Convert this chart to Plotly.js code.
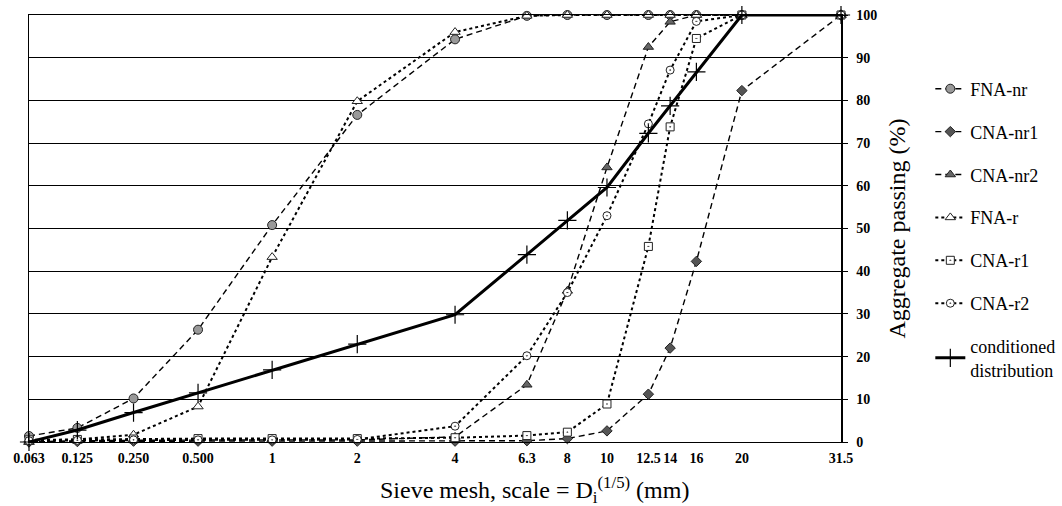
<!DOCTYPE html>
<html>
<head>
<meta charset="utf-8">
<script src="https://cdn.plot.ly/plotly-3.0.1.min.js"></script>
<style>html,body{margin:0;padding:0;background:#fff;}#chart{width:1062px;height:506px;}</style>
</head>
<body>
<div id="chart"></div>
<script>
// Sieve sizes (mm) and their tick labels
const sieveSizes = [0.063, 0.125, 0.25, 0.5, 1, 2, 4, 6.3, 8, 10, 12.5, 14, 16, 20, 31.5];
const sieveLabels = ['0.063','0.125','0.250','0.500','1','2','4','6.3','8','10','12.5','14','16','20','31.5'];

// Aggregate passing (%)
const fnaNr   = [1.4, 3.3, 10.2, 26.3, 50.8, 76.6, 94.3, 99.8, 100, 100, 100, 100, 100, 100, 100];
const cnaNr1  = [0, 0.1, 0.2, 0.2, 0.2, 0.2, 0.2, 0.3, 0.8, 2.6, 11.2, 22.0, 42.3, 82.3, 100];
const cnaNr2  = [0, 0.3, 0.4, 0.5, 0.5, 0.5, 1.2, 13.4, 35.4, 64.3, 92.5, 98.4, 100, 100, 100];
const fnaR    = [0, 0.6, 1.7, 8.3, 43.3, 79.8, 96.0, 99.8, 100, 100, 100, 100, 100, 100, 100];
const cnaR1   = [0.5, 0.6, 0.7, 0.8, 0.8, 0.8, 1.0, 1.5, 2.3, 8.9, 45.8, 73.8, 94.5, 100, 100];
const cnaR2   = [0.3, 0.4, 0.5, 0.5, 0.5, 0.6, 3.7, 20.2, 35.0, 53.0, 74.5, 87.1, 98.5, 100, 100];
const conditioned = [0, 2.8, 6.9, 11.5, 16.9, 22.9, 29.8, 43.9, 51.9, 59.6, 72.3, 78.7, 86.7, 100, 100];

// axis scale: D^(1/5)
const xs = sieveSizes.map(d => Math.pow(d, 0.2));

const F = 'Liberation Serif';
const dashed = '6px,4px';

function tr(name, y, dash, width, symbol, fill, size, group) {
  return {
    x: xs, y: y, name: name, type: 'scatter', mode: 'lines+markers',
    legendgroup: group, cliponaxis: false,
    line: {color: '#000', dash: dash, width: width},
    marker: {symbol: symbol, size: size, color: fill, line: {color: '#222', width: 1}}
  };
}

const data = [
  tr('FNA-nr', fnaNr, dashed, 1.4, 'circle', '#999999', 9, 'a'),
  tr('CNA-nr1', cnaNr1, dashed, 1.4, 'diamond', '#555555', 8, 'b'),
  tr('CNA-nr2', cnaNr2, dashed, 1.4, 'triangle-up', '#666666', 9, 'c'),
  tr('FNA-r', fnaR, 'dot', 2, 'triangle-up', '#ffffff', 9, 'd'),
  tr('CNA-r1', cnaR1, 'dot', 2, 'square-dot', '#ffffff', 8, 'e'),
  tr('CNA-r2', cnaR2, 'dot', 2, 'circle-dot', '#ffffff', 8, 'f'),
  {
    x: xs, y: conditioned, name: 'conditioned<br>distribution', type: 'scatter', mode: 'lines+markers',
    legendgroup: 'g', cliponaxis: false,
    line: {color: '#000', width: 3},
    marker: {symbol: 'cross-thin-open', size: 13, color: '#000', line: {color: '#000', width: 1.2}}
  }
];

const layout = {
  width: 1062, height: 506,
  margin: {l: 29, r: 221, t: 15, b: 64, autoexpand: false},
  paper_bgcolor: '#fff', plot_bgcolor: '#fff',
  font: {family: F, color: '#000'},
  showlegend: true,
  legend: {
    x: 1.11, y: 0.87, xanchor: 'left', yanchor: 'top',
    font: {family: F, size: 18, color: '#000'},
    traceorder: 'grouped', tracegroupgap: 16.5,
    bgcolor: 'rgba(0,0,0,0)'
  },
  xaxis: {
    type: 'linear', automargin: false,
    range: [xs[0], xs[xs.length - 1]],
    tickmode: 'array', tickvals: xs, ticktext: sieveLabels,
    tickfont: {family: F, size: 14, color: '#000', weight: 'bold'},
    ticklabelstandoff: 3,
    showgrid: false, zeroline: false,
    showline: true, linecolor: '#000', linewidth: 1, mirror: true,
    ticks: '', ticklen: 0
  },
  yaxis: {
    side: 'right', automargin: false,
    range: [0, 100], dtick: 10, tick0: 0,
    tickfont: {family: F, size: 14, color: '#000', weight: 'bold'},
    ticklabelstandoff: 6,
    showgrid: true, gridcolor: '#000', gridwidth: 1,
    zeroline: false,
    showline: true, linecolor: '#000', linewidth: 1.5, mirror: true,
    ticks: 'outside', ticklen: 5, tickcolor: '#000',
    title: {text: 'Aggregate passing (%)', font: {family: F, size: 24, color: '#000'}, standoff: 12}
  },
  annotations: [{
    xref: 'paper', yref: 'paper', x: 0.623, y: -0.112, xanchor: 'center', yanchor: 'middle',
    showarrow: false,
    text: 'Sieve mesh, scale = D<sub>i</sub><sup>(1/5)</sup> (mm)',
    font: {family: F, size: 24, color: '#000'}
  }]
};

Plotly.newPlot('chart', data, layout, {displayModeBar: false, staticPlot: true});
</script>
</body>
</html>
